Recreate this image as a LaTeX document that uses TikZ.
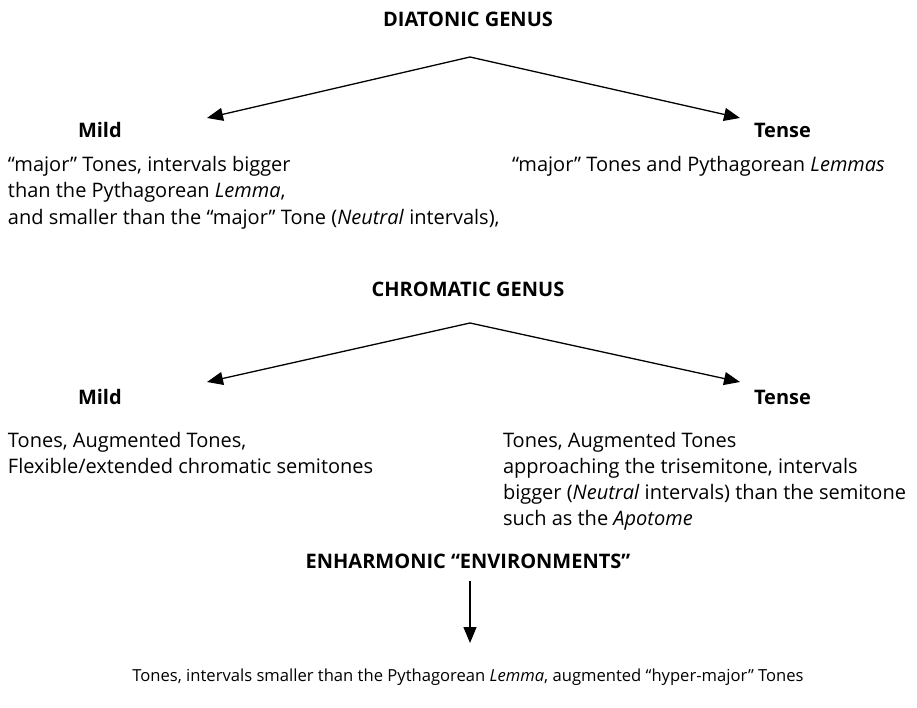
\documentclass[tikz,border=0pt]{standalone}
\usepackage{fontspec}
\setmainfont{Open Sans}
\usetikzlibrary{arrows.meta}
\begin{document}
\begin{tikzpicture}[x=1pt,y=-1pt,
  every node/.style={inner sep=0pt,outer sep=0pt},
  body/.style={font=\fontsize{20}{26}\selectfont, anchor=base west},
  title/.style={font=\fontsize{20}{26}\selectfont\bfseries, anchor=base},
  small/.style={font=\fontsize{16.6}{22}\selectfont, anchor=base},
  link/.style={line width=1.3pt, -{Triangle[length=16pt,width=13pt]}}]
\useasboundingbox (0,0) rectangle (917,708);

% Diatonic
\node[title] (dia) at (468,27) {DIATONIC GENUS};
\coordinate (dapex) at (470,57);
\coordinate (dl) at (207,118);
\coordinate (dr) at (740,118);
\draw[link] (dapex) -- (dl);
\draw[link] (dapex) -- (dr);
\node[body] (dmild) at (78,138) {\bfseries Mild};
\node[body] (dtense) at (754,138) {\bfseries Tense};
\node[body] (dm1) at (8,172) {“major” Tones, intervals bigger};
\node[body] (dm2) at (8,198) {than the Pythagorean \textit{Lemma},};
\node[body] (dm3) at (8,225) {and smaller than the “major” Tone (\textit{Neutral} intervals),};
\node[body] (dt1) at (512,172) {“major” Tones and Pythagorean \textit{Lemmas}};

% Chromatic
\node[title] (chr) at (468,296) {CHROMATIC GENUS};
\coordinate (capex) at (470,323);
\coordinate (cl) at (207,382);
\coordinate (cr) at (740,382);
\draw[link] (capex) -- (cl);
\draw[link] (capex) -- (cr);
\node[body] (cmild) at (78,404) {\bfseries Mild};
\node[body] (ctense) at (754,404) {\bfseries Tense};
\node[body] (cm1) at (8,447) {Tones, Augmented Tones,};
\node[body] (cm2) at (8,473) {Flexible/extended chromatic semitones};
\node[body] (ct1) at (503,447) {Tones, Augmented Tones};
\node[body] (ct2) at (503,473) {approaching the trisemitone, intervals};
\node[body] (ct3) at (503,499) {bigger (\textit{Neutral} intervals) than the semitone};
\node[body] (ct4) at (503,525) {such as the \textit{Apotome}};

% Enharmonic
\node[title] (enh) at (468,568) {ENHARMONIC “ENVIRONMENTS”};
\coordinate (etop) at (470,581);
\coordinate (ebot) at (470,643);
\draw[link] (etop) -- (ebot);
\node[small] (e1) at (468,681) {Tones, intervals smaller than the Pythagorean \textit{Lemma}, augmented “hyper-major” Tones};
\end{tikzpicture}
\end{document}
